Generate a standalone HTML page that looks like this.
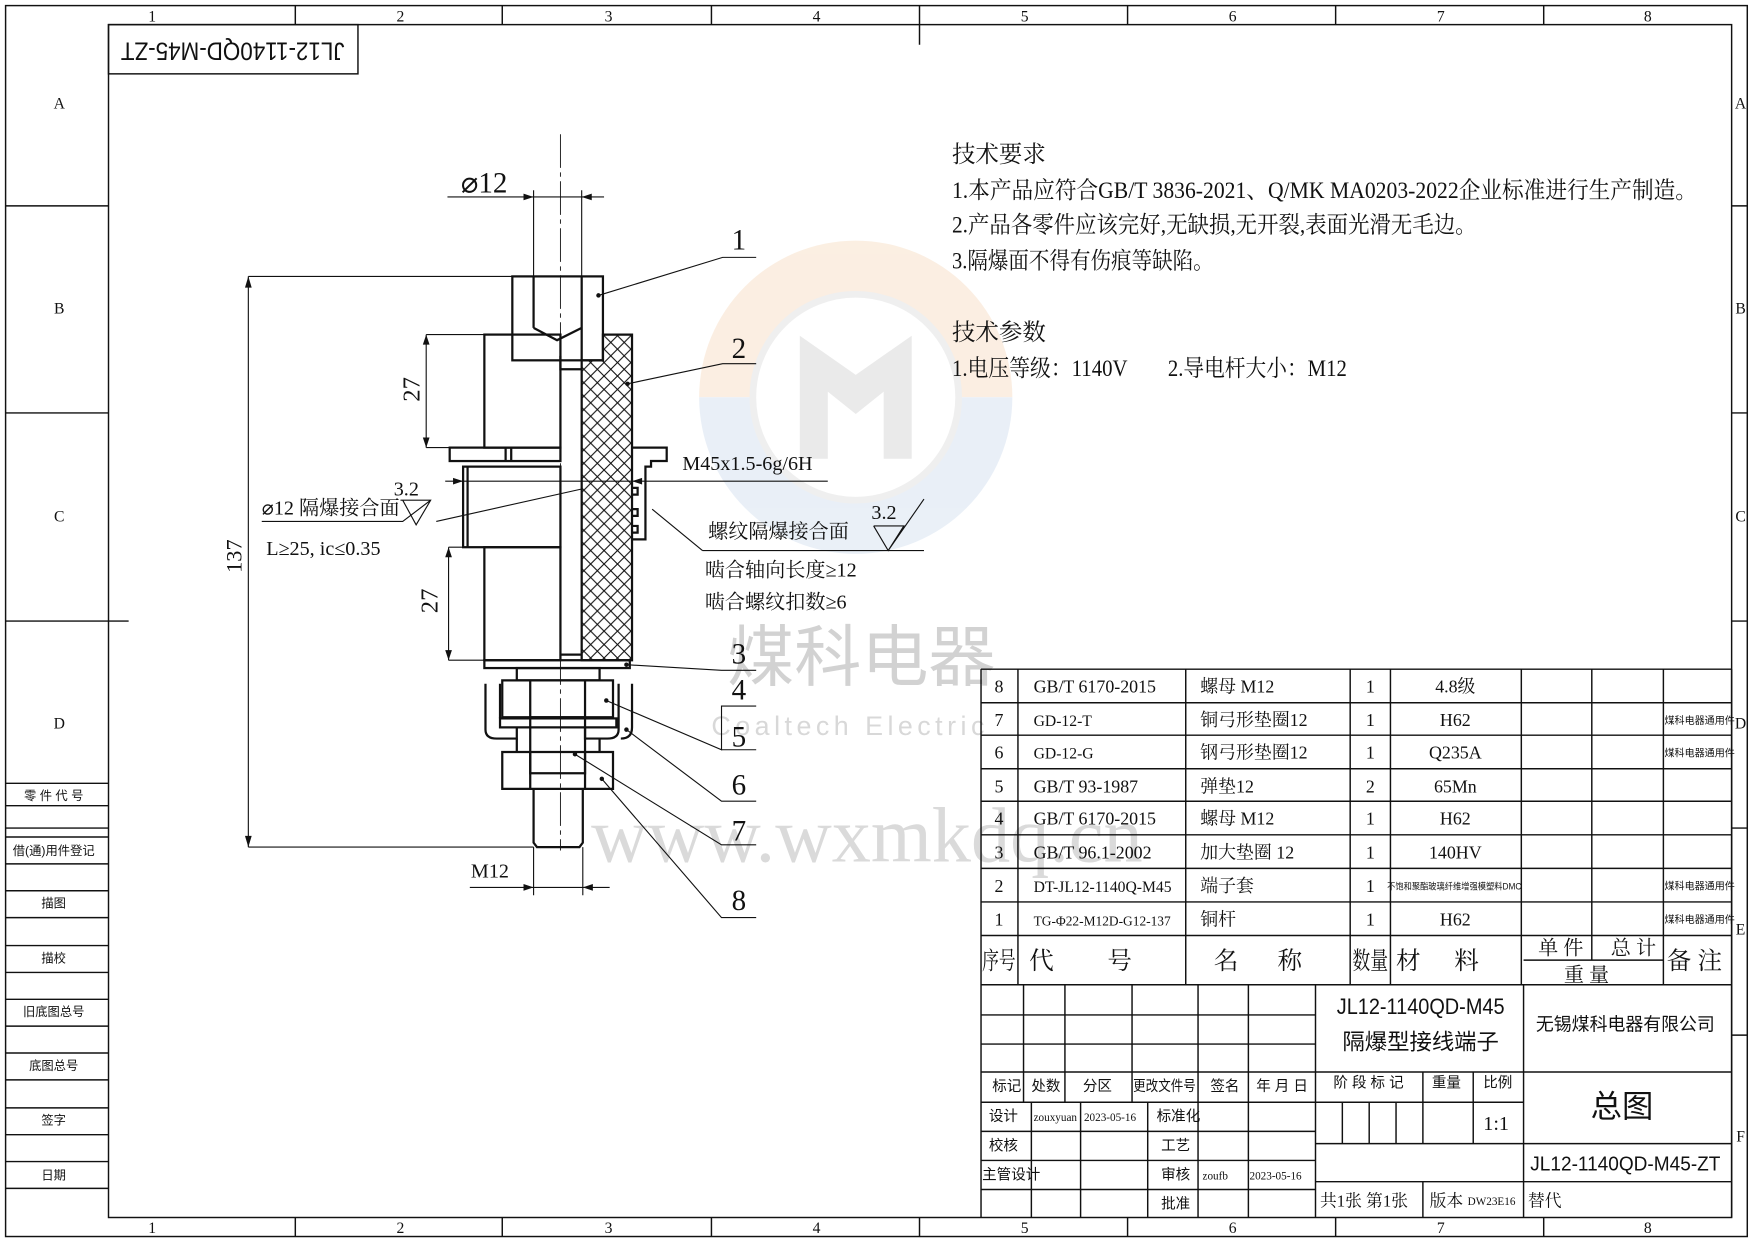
<!DOCTYPE html>
<html><head><meta charset="utf-8"><style>
html,body{margin:0;padding:0;background:#fff;}
svg{display:block;}
text{font-family:"Liberation Serif","Noto Serif CJK SC",serif;fill:#111;}
.s{font-family:"Liberation Sans","Noto Sans CJK SC",sans-serif;}
</style></head><body>
<svg width="1754" height="1241" viewBox="0 0 1568 1109" preserveAspectRatio="none" xmlns="http://www.w3.org/2000/svg">
<defs>
<pattern id="h" width="12" height="12" patternUnits="userSpaceOnUse">
<path d="M0 0L12 12M12 0L0 12" stroke="#111" stroke-width="1"/>
</pattern>
</defs>
<!-- watermark -->
<g opacity="0.3">
<path d="M625 355 A140 140 0 0 1 905 355 Z" fill="#f2c9a0"/>
<path d="M625 355 A140 140 0 0 0 905 355 Z" fill="#b9cde6"/>
<circle cx="765" cy="355" r="92" fill="#fff"/>
<circle cx="765" cy="355" r="92" fill="none" stroke="#ccc" stroke-width="6"/>
<path d="M715 300 L765 335 L815 300 L815 410 L790 410 L790 350 L765 370 L740 350 L740 410 L715 410Z" fill="#bbb"/>
</g>
<text x="770" y="608" font-size="60" text-anchor="middle" class="s" style="fill:#d2d2d2">煤科电器</text>
<text x="760" y="657" font-size="24" text-anchor="middle" class="s" style="fill:#d8d8d8" letter-spacing="4">Coaltech Electric</text>
<text x="775" y="770" font-size="70" text-anchor="middle" style="fill:#dadada">www.wxmkdq.cn</text>

<g fill="none" stroke="#111" stroke-width="1.3">
<rect x="5" y="5" width="1557" height="1100"/>
<rect x="97" y="22" width="1451" height="1066"/>
<path d="M264 5V22M449 5V22M636 5V22M822 5V40M1008 5V22M1194 5V22M1380 5V22M264 1088V1105M449 1088V1105M636 1088V1105M822 1088V1105M1008 1088V1105M1194 1088V1105M1380 1088V1105"/>
<path d="M5 184H97M5 369H97M5 555H115M5 740H97M1548 184H1562M1548 369H1562M1548 555H1562M1548 740H1562M1548 925H1562"/>
<path d="M5 700H97M5 720H97M5 748H97M5 772H97M5 796H97M5 820H97M5 845H97M5 869H97M5 893H97M5 917H97M5 941H97M5 965H97M5 990H97M5 1014H97M5 1038H97M5 1062H97"/>
<rect x="97" y="22" width="223" height="44"/>
</g>
<g font-size="14" text-anchor="middle">
<text x="136" y="19">1</text><text x="358" y="19">2</text><text x="544" y="19">3</text><text x="730" y="19">4</text><text x="916" y="19">5</text><text x="1102" y="19">6</text><text x="1288" y="19">7</text><text x="1473" y="19">8</text>
<text x="136" y="1102">1</text><text x="358" y="1102">2</text><text x="544" y="1102">3</text><text x="730" y="1102">4</text><text x="916" y="1102">5</text><text x="1102" y="1102">6</text><text x="1288" y="1102">7</text><text x="1473" y="1102">8</text>
<text x="53" y="97">A</text><text x="53" y="280">B</text><text x="53" y="466">C</text><text x="53" y="651">D</text>
<text x="1556" y="97">A</text><text x="1556" y="280">B</text><text x="1556" y="466">C</text><text x="1556" y="651">D</text><text x="1556" y="835">E</text><text x="1556" y="1020">F</text>
</g>
<g font-size="11" text-anchor="middle" class="s">
<text x="48" y="715" class="s">零 件 代 号</text><text x="48" y="764" class="s">借(通)用件登记</text><text x="48" y="811" class="s">描图</text><text x="48" y="860" class="s">描校</text><text x="48" y="908" class="s">旧底图总号</text><text x="48" y="956" class="s">底图总号</text><text x="48" y="1005" class="s">签字</text><text x="48" y="1054" class="s">日期</text>
</g>
<text transform="translate(208,44) rotate(180)" font-size="22" text-anchor="middle" dominant-baseline="middle" class="s" textLength="200" lengthAdjust="spacingAndGlyphs">JL12-1140QD-M45-ZT</text>

<g font-size="21">
<text x="851" y="145">技术要求</text>
<text x="851" y="177" textLength="666" lengthAdjust="spacingAndGlyphs">1.本产品应符合GB/T 3836-2021、Q/MK MA0203-2022企业标准进行生产制造。</text>
<text x="851" y="208" textLength="469" lengthAdjust="spacingAndGlyphs">2.产品各零件应该完好,无缺损,无开裂,表面光滑无毛边。</text>
<text x="851" y="240" textLength="234" lengthAdjust="spacingAndGlyphs">3.隔爆面不得有伤痕等缺陷。</text>
<text x="851" y="304">技术参数</text>
<text x="851" y="336" textLength="157" lengthAdjust="spacingAndGlyphs">1.电压等级：1140V</text>
<text x="1044" y="336" textLength="160" lengthAdjust="spacingAndGlyphs">2.导电杆大小：M12</text>
</g>

<g fill="none" stroke="#111" stroke-width="2">
<rect x="458" y="247" width="81" height="75"/>
<path d="M477 247V293M520 247V322M477 293L498 304L520 293"/>
<rect x="433" y="299" width="68" height="101"/>
<path d="M539 299H565V590H520V322H539Z" fill="url(#h)"/>
<rect x="402" y="400" width="99" height="12"/>
<path d="M452 400V412M457 400V412"/>
<path d="M565 400H596V412H582V417H577V482H565"/>
<path d="M565 436H570V442H565M565 455H570V461H565M565 470H570V476H565"/>
<rect x="414" y="417" width="87" height="72"/>
<path d="M418 417V489"/>
<rect x="433" y="489" width="68" height="101"/>
<path d="M501 318V330H520M501 585H520"/>
<rect x="433" y="590" width="130" height="7"/>
<rect x="462" y="597" width="74" height="11"/>
<path d="M449 608H548V641H449Z M474 608V641M523 608V641"/>
<rect x="447" y="642" width="104" height="8"/>
<path d="M434 611V652Q434 660 444 660H462V650M447 611V642M553 611V652Q553 660 543 660H523V650M565 611V650Q565 660 555 660"/>
<rect x="474" y="641" width="49" height="50"/>
<path d="M462 660V672M536 660V672"/>
<path d="M449 672H548V705H449Z M474 672V705M523 672V705"/>
<path d="M477 705V753L480 757H518L521 753V705"/>
</g>
<g stroke="#111" stroke-width="1" fill="none">
<path d="M501 120V760" stroke-dasharray="30 4 4 4" stroke-width="0.8"/>
<path d="M222 247H458M222 757H477M222 247V757"/>
<path d="M381 299H433M381 400H402M381 299V400"/>
<path d="M401 489H433M401 590H433M401 489V590"/>
<path d="M477 247V170M520 247V170M400 176H540"/>
<path d="M398 430H740"/>
<path d="M477 757V800M521 757V800M420 793H545"/>
<path d="M234 466H360L385 447M360 447L372 469L385 447H358M390 466L520 437" />
<path d="M628 492H826M781 470L794 492L808 470H781M794 492L826 446M628 492L583 455"/>
<path d="M535 264L646 230H676M561 343L646 325H676M560 594L645 599H676M542 626L645 670V631H676M645 670H676M560 652L645 716H676M514 674L645 755H676M538 696L645 820H676"/>
</g>
<g fill="#111"><circle cx="535" cy="264" r="2"/><circle cx="561" cy="343" r="2"/><circle cx="560" cy="594" r="2"/><circle cx="542" cy="626" r="2"/><circle cx="560" cy="652" r="2"/><circle cx="514" cy="674" r="2"/><circle cx="538" cy="696" r="2"/>
<path d="M222 247l-3 10h6zM222 757l-3-10h6zM381 299l-3 9h6zM381 400l-3-9h6zM401 489l-3 9h6zM401 590l-3-9h6zM477 176l-9-3v6zM520 176l9-3v6zM414 430l-9-3v6zM565 430l9-3v6zM477 793l-9-3v6zM521 793l9-3v6z"/></g>
<g font-size="26">
<text x="412" y="172">⌀12</text>
<text x="654" y="223">1</text><text x="654" y="320">2</text><text x="654" y="593">3</text><text x="654" y="625">4</text><text x="654" y="667">5</text><text x="654" y="710">6</text><text x="654" y="751">7</text><text x="654" y="813">8</text>
<text transform="translate(216,497) rotate(-90)" text-anchor="middle" font-size="20">137</text>
<text transform="translate(375,348) rotate(-90)" text-anchor="middle" font-size="22">27</text>
<text transform="translate(391,537) rotate(-90)" text-anchor="middle" font-size="22">27</text>
</g>
<g font-size="18">
<text x="610" y="420">M45x1.5-6g/6H</text>
<text x="234" y="460">⌀12 隔爆接合面</text>
<text x="352" y="443">3.2</text>
<text x="238" y="496">L≥25, ic≤0.35</text>
<text x="633" y="481">螺纹隔爆接合面</text>
<text x="779" y="464">3.2</text>
<text x="630" y="515">啮合轴向长度≥12</text>
<text x="630" y="544">啮合螺纹扣数≥6</text>
<text x="421" y="784">M12</text>
</g>

<g fill="none" stroke="#111" stroke-width="1.3">
<path d="M877 598H1548M877 628H1548M877 657H1548M877 687H1548M877 716H1548M877 746H1548M877 776H1548M877 806H1548M877 836H1548M877 880H1548M1362 858H1487"/>
<path d="M877 598V1088M910 598V880M1060 598V880M1207 598V880M1243 598V880M1360 598V880M1423 598V858M1487 598V880M1548 598V1088"/>
<path d="M877 907H1176M877 933H1176M877 958H1362M877 985H1176M877 1011H1176M877 1037H1176M877 1063H1176"/>
<path d="M915 880V985M952 880V985M1012 880V985M1071 880V1088M1116 880V1088M1176 880V1088M922 985V1088M966 985V1088M1026 985V1088"/>
<path d="M1176 985H1362M1176 1022H1548M1176 1056H1548M1200 985V1022M1224 985V1022M1248 985V1022M1272 958V1022M1317 958V1022M1272 1056V1088M1362 880V1088M1362 958H1548"/>
</g>
<g font-size="16">
<text x="889" y="619">8</text><text x="889" y="649">7</text><text x="889" y="678">6</text><text x="889" y="708">5</text><text x="889" y="737">4</text><text x="889" y="767">3</text><text x="889" y="797">2</text><text x="889" y="827">1</text>
<text x="924" y="619">GB/T 6170-2015</text><text x="924" y="649" font-size="14">GD-12-T</text><text x="924" y="678" font-size="14">GD-12-G</text><text x="924" y="708">GB/T 93-1987</text><text x="924" y="737">GB/T 6170-2015</text><text x="924" y="767">GB/T 96.1-2002</text><text x="924" y="797" font-size="14">DT-JL12-1140Q-M45</text><text x="924" y="827" font-size="12">TG-Φ22-M12D-G12-137</text>
<text x="1073" y="619">螺母 M12</text><text x="1073" y="649">铜弓形垫圈12</text><text x="1073" y="678">钢弓形垫圈12</text><text x="1073" y="708">弹垫12</text><text x="1073" y="737">螺母 M12</text><text x="1073" y="767">加大垫圈 12</text><text x="1073" y="797">端子套</text><text x="1073" y="827">铜杆</text>
<g text-anchor="middle"><text x="1225" y="619">1</text><text x="1225" y="649">1</text><text x="1225" y="678">1</text><text x="1225" y="708">2</text><text x="1225" y="737">1</text><text x="1225" y="767">1</text><text x="1225" y="797">1</text><text x="1225" y="827">1</text>
<text x="1301" y="619">4.8级</text><text x="1301" y="649">H62</text><text x="1301" y="678">Q235A</text><text x="1301" y="708">65Mn</text><text x="1301" y="737">H62</text><text x="1301" y="767">140HV</text><text x="1301" y="827">H62</text></g>
<text x="1240" y="795" font-size="8" class="s" textLength="120" lengthAdjust="spacingAndGlyphs">不饱和聚酯玻璃纤维增强模塑料DMC</text>
</g>
<g font-size="9" class="s"><text x="1488" y="647" class="s">煤科电器通用件</text><text x="1488" y="676" class="s">煤科电器通用件</text><text x="1488" y="795" class="s">煤科电器通用件</text><text x="1488" y="825" class="s">煤科电器通用件</text></g>
<g font-size="22">
<text x="878" y="866" textLength="30" lengthAdjust="spacingAndGlyphs">序号</text><text x="920" y="866">代</text><text x="990" y="866">号</text><text x="1085" y="866">名</text><text x="1142" y="866">称</text>
<text x="1209" y="866" textLength="32" lengthAdjust="spacingAndGlyphs">数量</text><text x="1248" y="866">材</text><text x="1300" y="866">料</text><text x="1490" y="866">备 注</text>
<text x="1375" y="853" font-size="18">单 件</text><text x="1440" y="853" font-size="18">总 计</text><text x="1398" y="877" font-size="18">重   量</text>
</g>
<g font-size="13" class="s">
<text x="887" y="975" class="s">标记</text><text x="922" y="975" class="s">处数</text><text x="968" y="975" class="s">分区</text><text x="1013" y="975" class="s" textLength="56" lengthAdjust="spacingAndGlyphs">更改文件号</text><text x="1082" y="975" class="s">签名</text><text x="1123" y="975" class="s">年 月 日</text>
<text x="884" y="1002" class="s">设计</text><text x="884" y="1028" class="s">校核</text><text x="878" y="1054" class="s">主管设计</text>
<text x="1034" y="1002" class="s">标准化</text><text x="1038" y="1028" class="s">工艺</text><text x="1038" y="1054" class="s">审核</text><text x="1038" y="1080" class="s">批准</text>
<text x="1192" y="972" class="s">阶 段 标 记</text><text x="1280" y="972" class="s">重量</text><text x="1326" y="972" class="s">比例</text>
</g>
<g font-size="10"><text x="924" y="1002">zouxyuan</text><text x="969" y="1002">2023-05-16</text><text x="1075" y="1054">zoufb</text><text x="1117" y="1054">2023-05-16</text><text x="1312" y="1077">DW23E16</text></g>
<text x="1326" y="1010" font-size="18">1:1</text>
<g font-size="15"><text x="1180" y="1078">共1张  第1张</text><text x="1278" y="1078">版本</text><text x="1366" y="1078">替代</text></g>
<g class="s" text-anchor="middle">
<text x="1270" y="906" font-size="20" class="s" textLength="150" lengthAdjust="spacingAndGlyphs">JL12-1140QD-M45</text>
<text x="1270" y="938" font-size="20" class="s">隔爆型接线端子</text>
<text x="1453" y="921" font-size="16" class="s">无锡煤科电器有限公司</text>
<text x="1450" y="998" font-size="28" class="s">总图</text>
<text x="1453" y="1046" font-size="18" class="s" textLength="170" lengthAdjust="spacingAndGlyphs">JL12-1140QD-M45-ZT</text>
</g>
</svg>
</body></html>
